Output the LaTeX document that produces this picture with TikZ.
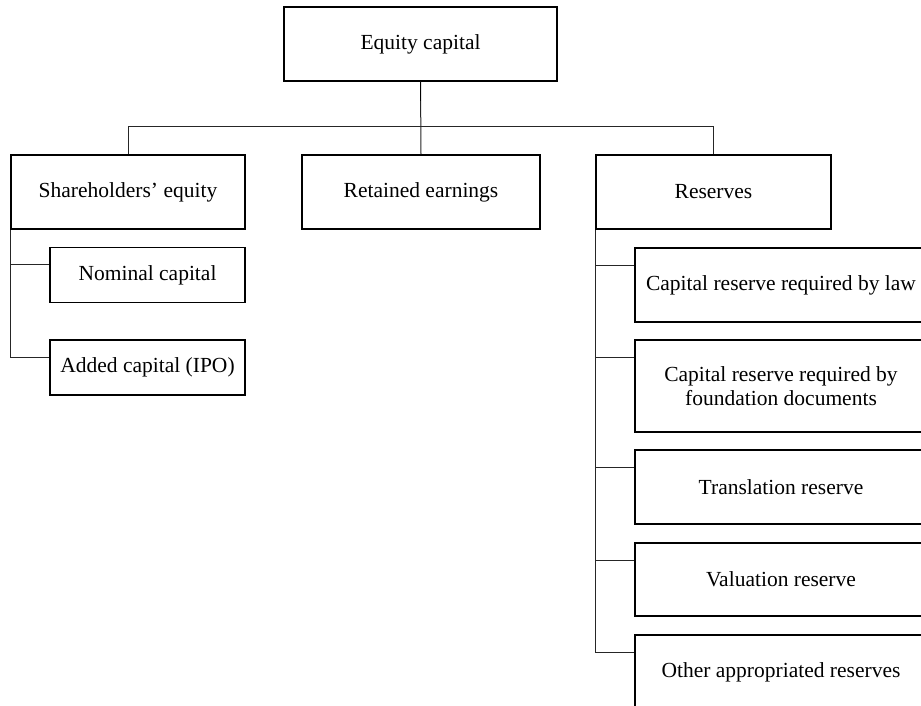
\documentclass[tikz,border=0pt]{standalone}
\usepackage{fontspec}
\setmainfont{Liberation Serif}
\usetikzlibrary{calc}
\begin{document}
\begin{tikzpicture}[x=1pt,y=-1pt,
  box/.style={draw=black, line width=1.5pt, rectangle, inner sep=2pt, align=center,
    font=\fontsize{21.5}{23.5}\selectfont},
  link/.style={draw=black!85, line width=1pt}]
\useasboundingbox (0,0) rectangle (921,706);
\clip (0,0) rectangle (921,706);
\fill[white] (0,0) rectangle (921,706);
% level 0
\node[box, minimum width=273pt, minimum height=74pt] (top) at (420.5,44) {Equity capital};
% level 1
\node[box, minimum width=234pt, minimum height=74pt] (se) at (128,192) {Shareholders’ equity};
\node[box, minimum width=238pt, minimum height=74pt] (ret) at (421,192) {Retained earnings};
\node[box, minimum width=235pt, minimum height=74pt] (res) at (713.5,192) {Reserves};
% shareholders' children
\node[box, minimum width=195pt, minimum height=55pt] (nom) at (147.5,275) {Nominal capital};
\node[box, minimum width=195pt, minimum height=55pt] (add) at (147.5,367.5) {Added capital (IPO)};
% reserves' children
\node[box, minimum width=292pt, minimum height=74pt] (law) at (781,285) {Capital reserve required by law};
\node[box, minimum width=292pt, minimum height=92pt] (fnd) at (781,386) {Capital reserve required by\\foundation documents};
\node[box, minimum width=292pt, minimum height=74pt] (trn) at (781,487) {Translation reserve};
\node[box, minimum width=292pt, minimum height=73pt] (val) at (781,579.5) {Valuation reserve};
\node[box, minimum width=292pt, minimum height=74pt] (oth) at (781,672) {Other appropriated reserves};
% connectors
\draw[link] (top.south) -- (ret.north);
\draw[draw=black, line width=1.5pt] (top.south) -- ++(0,19);
\draw[link] (se.north) -- ++(0,-28) -| (res.north);
\draw[link] (se.south west) |- ($(nom.north west)+(0,18)$);
\draw[link] (se.south west) |- ($(add.north west)+(0,18)$);
\draw[link] (res.south west) |- ($(law.north west)+(0,18)$);
\draw[link] (res.south west) |- ($(fnd.north west)+(0,18)$);
\draw[link] (res.south west) |- ($(trn.north west)+(0,18)$);
\draw[link] (res.south west) |- ($(val.north west)+(0,18)$);
\draw[link] (res.south west) |- ($(oth.north west)+(0,18)$);
\end{tikzpicture}
\end{document}
